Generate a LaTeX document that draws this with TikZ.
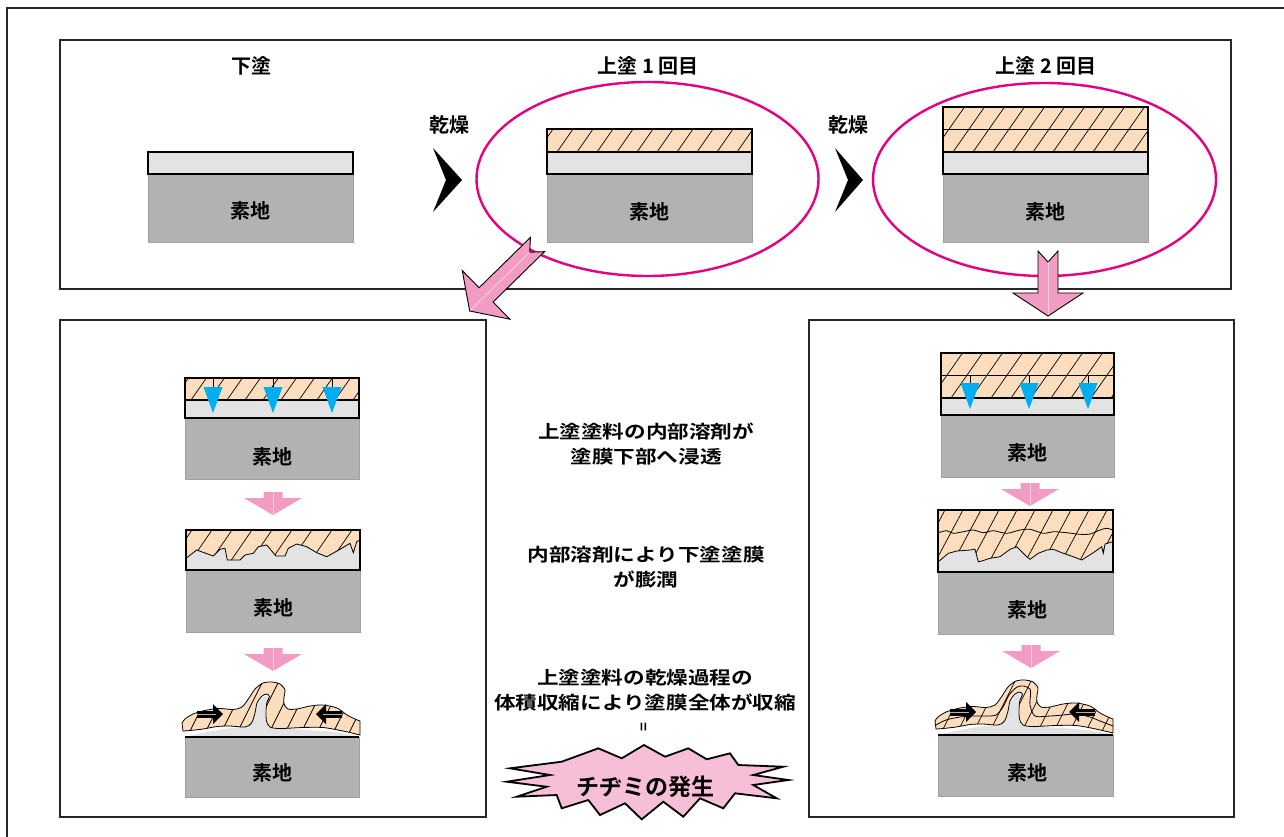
\documentclass[tikz,border=0pt]{standalone}
\usepackage{fontspec}
\newfontfamily\jp{Noto Sans CJK JP}[BoldFont={Noto Sans CJK JP Bold}]
\newfontfamily\jpw{Noto Sans CJK JP}[BoldFont={Noto Sans CJK JP Bold},FakeStretch=1.2]
\definecolor{peach}{RGB}{252,221,189}
\definecolor{coatgray}{RGB}{227,227,227}
\definecolor{basegray}{RGB}{178,178,178}
\definecolor{baseedge}{RGB}{160,160,160}
\definecolor{ringpink}{RGB}{228,0,127}
\definecolor{arrowpink}{RGB}{242,156,195}
\definecolor{arrowshine}{RGB}{250,205,225}
\definecolor{burstpink}{RGB}{247,190,216}
\definecolor{dropblue}{RGB}{0,174,239}

% hatched top-coat rectangle
\newcommand{\hatchrect}[5]{%
  \fill[peach] (#1,#2) rectangle (#3,#4);
  \begin{scope}
    \clip (#1,#2) rectangle (#3,#4);
    \foreach \i in {0,...,16}{\draw[hatchline] ({#1-30+\i*#5},#4) -- ({#1-30+\i*#5+0.7*(#4-#2)},#2);}
  \end{scope}
  \draw[edge] (#1,#2) rectangle (#3,#4);}

% notched block arrow: tail point, direction angle, shaft length, head half width
\newcommand{\blockarrow}[5]{%
  \begin{scope}[shift={(#1,#2)}, rotate=#3]
    \draw[blockarrow] (0,-10) -- (#4,-10) -- (#4,-#5) -- (#4+23,0) -- (#4,#5) -- (#4,10) -- (0,10) -- (11,0) -- cycle;
    \draw[shine] (11,0) -- (#4+22,0);
  \end{scope}}

% small step arrow: centre x, top y
\newcommand{\steparrow}[2]{%
  \fill[arrowpink] (#1-9.5,#2) -- (#1+9.5,#2) -- (#1+9.5,#2+6) -- (#1+29,#2+6) -- (#1,#2+23) -- (#1-29,#2+6) -- (#1-9.5,#2+6) -- cycle;
  \draw[shine] (#1,#2) -- (#1,#2+22);}

% solvent drop: x, line top, triangle top
\newcommand{\drop}[3]{%
  \draw[line width=0.6pt] (#1,#2) -- (#1,#3);
  \fill[dropblue] (#1-9.5,#3) -- (#1+9.5,#3) -- (#1,#3+26) -- cycle;}

% shrink arrows on a wrinkled film (local coordinates)
\newcommand{\pusharrows}{%
  \draw[line width=7pt] (12,-23) -- (29,-23);
  \fill (28,-33) -- (38,-23) -- (28,-13) -- cycle;
  \draw[gray!60, line width=1pt] (12,-23) -- (31,-23);
  \draw[line width=7pt] (157,-23) -- (140,-23);
  \fill (141,-33) -- (131,-23) -- (141,-13) -- cycle;
  \draw[gray!60, line width=1pt] (157,-23) -- (138,-23);}

\def\moundpath{(0,0) .. controls (20,-5) and (40,-9) .. (60,-10) .. controls (68,-12) and (70,-22) .. (72,-30) .. controls (74,-38) and (79,-43) .. (84,-40) .. controls (80,-34) and (78,-20) .. (83,-10) .. controls (100,-7) and (150,-8) .. (174,0) -- cycle}
\def\filmpath{plot[smooth] coordinates {(-3,-14) (0,-18) (8,-23) (22,-27) (35,-28.5) (48,-27.5) (57,-30) (64,-39) (70,-48) (78,-54) (87,-55) (95,-53) (100,-47) (99,-40) (99,-33) (103,-28) (112,-28) (125,-31) (138,-32) (152,-29) (162,-22) (170,-18) (175,-16)} -- plot[smooth] coordinates {(175,-2) (158,-6) (138,-9.5) (118,-9.5) (95,-8.5) (85,-10) (81.5,-16) (81,-26) (82,-35) (84.5,-40.5) (81.5,-43) (76.5,-40.5) (72,-34) (70,-24) (66.5,-14) (60,-10) (45,-11) (32,-10.5) (18,-8) (5,-6.5) (-2,-6)} -- cycle}

\begin{document}
\begin{tikzpicture}[x=1pt,y=-1pt,
  panel/.style={draw=black!85, line width=1.4pt},
  edge/.style={draw=black, line width=1.2pt},
  thinedge/.style={draw=black, line width=0.8pt},
  coat/.style={fill=coatgray, draw=black, line width=1.2pt},
  base/.style={fill=basegray, draw=baseedge, line width=1pt},
  hatchline/.style={black, line width=0.7pt},
  ring/.style={draw=ringpink, line width=2.4pt},
  blockarrow/.style={fill=arrowpink, draw=black, line width=0.9pt},
  shine/.style={draw=arrowshine, line width=0.8pt},
  jtext/.style={font=\jp\bfseries\fontsize{20}{24}\selectfont, inner sep=0pt},
  note/.style={font=\jpw\bfseries\fontsize{18}{25}\selectfont, align=center, inner sep=0pt},
  ]
\useasboundingbox (0,0) rectangle (1284,836);

% outer frame and panels
\draw[line width=1.6pt, black!85] (7,840) -- (7,8) -- (1290,8);
\draw[panel] (60,40) rectangle (1231,289);
\draw[panel] (60,320) rectangle (486,817);
\draw[panel] (809,320) rectangle (1234,817);

% ---- top row ----
\node[jtext] (t1) at (251,66) {下塗};
\node[jtext] (t2) at (648,66) {上塗 1 回目};
\node[jtext] (t3) at (1046,66) {上塗 2 回目};

\draw[ring] (647.5,179) ellipse [x radius=171, y radius=97];
\draw[ring] (1044.5,179.5) ellipse [x radius=171.5, y radius=96.5];

% undercoat only
\draw[base] (148,174) rectangle (353,242);
\draw[coat] (148,152) rectangle (353,174);
\node[jtext] (s1) at (250.5,211) {素地};

% first top coat
\draw[base] (547,174) rectangle (752,242);
\draw[coat] (547,152) rectangle (752,174);
\hatchrect{547}{129}{752}{152}{20}
\node[jtext] (s2) at (649.5,212) {素地};

% second top coat
\draw[base] (943,174) rectangle (1148,242);
\draw[coat] (943,152) rectangle (1148,174);
\hatchrect{943}{107}{1148}{152}{20}
\draw[edge] (943,129.5) -- (1148,129.5);
\node[jtext] (s3) at (1045.5,212) {素地};

% drying steps
\node[jtext] (d1) at (449,125) {乾燥};
\node[jtext] (d2) at (848,125) {乾燥};
\fill (433,148) -- (462,180) -- (433,212) -- (446,180) -- cycle;
\fill (835,148) -- (863,180) -- (835,212) -- (848,180) -- cycle;

% block arrows to the lower panels
\blockarrow{537.5}{244.5}{224.4}{72}{34}
\blockarrow{1048}{251}{-90}{42}{35}

% ---- left panel ----
\draw[base] (185,418) rectangle (359,479);
\draw[coat] (185,400) rectangle (359,418);
\hatchrect{185}{378}{359}{400}{18}
\drop{213}{378}{387}
\drop{273}{378}{387}
\drop{332}{378}{387}
\node[jtext] (s4) at (272,457) {素地};

\steparrow{273}{492}

\def\jagB{(186,558.3) -- (196.7,550) -- (213.3,556) -- (220,549.3) -- (225,548.3) -- (227.3,560) -- (240,560) -- (245,555) -- (253.3,553.3) -- (258.3,546.7) -- (266.7,545) -- (276,556) -- (285,556) -- (288.3,548.3) -- (296.7,544) -- (306.7,546.7) -- (316.7,552.7) -- (326.7,556.7) -- (340,549.3) -- (350,543.3) -- (353.3,552.7) -- (356.7,541.7) -- (360,540)}
\draw[base] (186,570) rectangle (360,632);
\fill[coatgray] (186,530) rectangle (360,570);
\fill[peach] (360,530) -- (186,530) -- \jagB -- cycle;
\begin{scope}
  \clip (360,530) -- (186,530) -- \jagB -- cycle;
  \foreach \i in {0,...,12}{\draw[hatchline] ({170+\i*20},562) -- ({170+\i*20+22},530);}
\end{scope}
\draw[thinedge] \jagB;
\draw[edge] (186,530) rectangle (360,570);
\node[jtext] (s5) at (273,608) {素地};

\steparrow{273}{648}

\draw[base] (185,737) rectangle (359,797);
\begin{scope}[shift={(185,737)}]
  \fill[coatgray] \moundpath;
  \fill[peach] \filmpath;
  \begin{scope}
    \clip \filmpath;
    \foreach \i in {0,...,13}{\draw[hatchline] ({-30+\i*16},0) -- ({\i*16},-60);}
  \end{scope}
  \draw[thinedge] \filmpath;
  \draw[edge] (0,0) -- (174,0);
  \pusharrows
\end{scope}
\node[jtext] (s6) at (272,773) {素地};

% ---- right panel ----
\draw[base] (941,415) rectangle (1114,477);
\draw[coat] (941,398) rectangle (1114,415);
\hatchrect{941}{353}{1114}{398}{20}
\draw[edge] (941,375.5) -- (1114,375.5);
\drop{970}{375}{383}
\drop{1029}{375}{383}
\drop{1088}{375}{383}
\node[jtext] (s7) at (1027.5,453) {素地};

\steparrow{1030}{483}

\def\jagE{(938.3,561.7) -- (948.3,553.3) -- (956.7,551) -- (970,550) -- (975,549.3) -- (978.3,561.7) -- (981.7,561) -- (990,558.3) -- (1000,556.7) -- (1010,549.3) -- (1016.7,546.7) -- (1026.7,556.7) -- (1030,559.3) -- (1038.3,553.3) -- (1046.7,550) -- (1053.3,549.3) -- (1063.3,553.3) -- (1073.3,556.7) -- (1081.7,560) -- (1093.3,552.7) -- (1101.7,546.7) -- (1103.3,553.3) -- (1105,544) -- (1112.7,541.7)}
\draw[base] (938,572) rectangle (1113,634);
\fill[coatgray] (938,510) rectangle (1113,572);
\fill[peach] (1113,510) -- (938,510) -- \jagE -- cycle;
\begin{scope}
  \clip (1113,510) -- (938,510) -- \jagE -- cycle;
  \foreach \i in {0,...,14}{\draw[hatchline] ({915+\i*18},566) -- ({915+\i*18+30},510);}
\end{scope}
\draw[thinedge] plot[smooth] coordinates {(938.3,532.7) (946.7,530.7) (953.3,533.3) (963.3,531.7) (973.3,530) (983.3,532.7) (993.3,530.7) (1006.7,533.3) (1020,530) (1030,529.3) (1043.3,533.3) (1053.3,531.7) (1066.7,532.7) (1080,534.3) (1090,534) (1100,530) (1106.7,528.3) (1112.7,530)};
\draw[thinedge] \jagE;
\draw[edge] (938,510) rectangle (1113,572);
\node[jtext] (s8) at (1027.5,610) {素地};

\steparrow{1031}{645}

\draw[base] (938,735) rectangle (1113,796);
\begin{scope}[shift={(938,735)}]
  \fill[coatgray] \moundpath;
  \fill[peach] \filmpath;
  \begin{scope}
    \clip \filmpath;
    \foreach \i in {0,...,13}{\draw[hatchline] ({-30+\i*16},0) -- ({\i*16},-60);}
  \end{scope}
  \draw[thinedge] plot[smooth] coordinates {(-2,-10) (8,-15) (22,-18) (35,-19) (48,-19) (58,-20) (65,-28) (71,-40) (79,-48) (86,-49) (92,-46) (92.5,-40) (92,-30) (97,-19) (112,-19) (125,-20) (138,-21) (152,-18) (162,-14) (175,-9)};
  \draw[thinedge] \filmpath;
  \draw[edge] (0,0) -- (175,0);
  \pusharrows
\end{scope}
\node[jtext] (s9) at (1027,773) {素地};

% ---- explanations ----
\node[note] (n1) at (646,444.5) {上塗塗料の内部溶剤が\\塗膜下部へ浸透};
\node[note] (n2) at (646,567.5) {内部溶剤により下塗塗膜\\が膨潤};
\node[note] (n3) at (645,690.5) {上塗塗料の乾燥過程の\\体積収縮により塗膜全体が収縮};
\node[font=\jp\bfseries\fontsize{15}{15}\selectfont, inner sep=0pt, rotate=90] (eq) at (645,727) {=};

\draw[fill=burstpink, draw=black, line width=1.8pt, line join=miter]
  (510,768.3) -- (561.7,761.7) -- (598.3,748.3) -- (621.7,758.3) -- (644,745) -- (665,756.7) -- (688.3,748.3) -- (706.7,759.3) -- (730,753.3) -- (738.3,765) -- (783.3,766.7) -- (753.3,775) -- (788.3,780) -- (753.3,785) -- (776.7,798.3) -- (735,793.3) -- (723.3,808.3) -- (700,798.3) -- (683.3,816.7) -- (663.3,801.7) -- (641.7,819.3) -- (625,803.3) -- (600,815) -- (588.3,800) -- (561.7,808.3) -- (556.7,795) -- (516.7,796.7) -- (546.7,786.7) -- (506.7,781.7) -- (550,775) -- cycle;
\node[font=\jp\bfseries\fontsize{23}{26}\selectfont, inner sep=0pt] (burst) at (645,787) {チヂミの発生};

\end{tikzpicture}
\end{document}
